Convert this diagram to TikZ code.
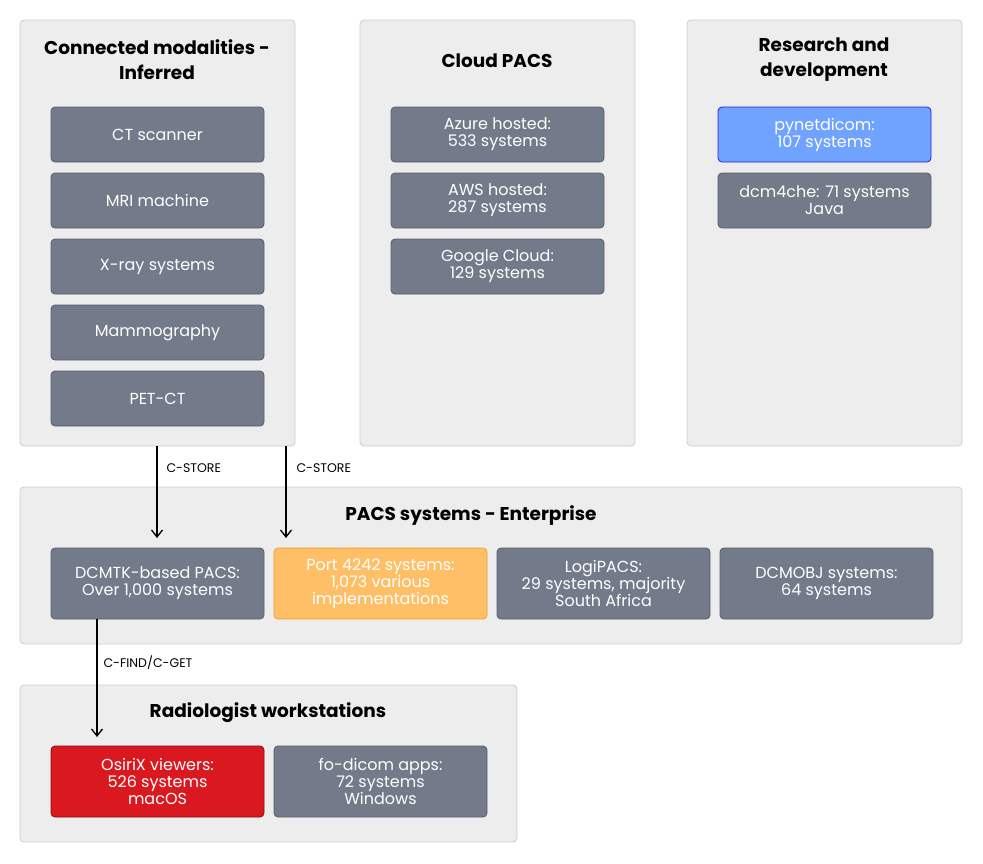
\documentclass[tikz,border=0pt]{standalone}
\usepackage{fontspec}
\setmainfont{Poppins}
\usetikzlibrary{arrows.meta}
\definecolor{grp}{HTML}{EDEDED}
\definecolor{grpb}{HTML}{CCCCCC}
\definecolor{box}{HTML}{737B8A}
\definecolor{boxb}{HTML}{555D6A}
\definecolor{blu}{HTML}{6FA3FF}
\definecolor{blub}{HTML}{2222CC}
\definecolor{org}{HTML}{FFBF66}
\definecolor{orgb}{HTML}{F0A030}
\definecolor{redf}{HTML}{D9191F}
\definecolor{redb}{HTML}{8A0A0E}
\begin{document}
\begin{tikzpicture}[x=1pt,y=-1pt,
 grpst/.style={draw=grpb,fill=grp,rounded corners=4pt,line width=0.8pt},
 bx/.style={draw=boxb,fill=box,rounded corners=4pt,line width=0.8pt,text=white,align=center,
   font=\fontsize{16}{17}\selectfont\addfontfeatures{Weight=300}},
 ttl/.style={font=\fontsize{18.5}{25}\selectfont\bfseries,align=center},
 lbl/.style={font=\fontsize{12.5}{14}\selectfont,anchor=west},
 arr/.style={-{Straight Barb[length=7pt,width=11pt]},line width=1.3pt}]
\useasboundingbox (0,0) rectangle (983,863);
\newcommand\gbox[5]{\draw[grpst] (#1,#2) rectangle (#3,#4); \node[coordinate] (#5) at (#1,#2) {};}
\newcommand\ibox[6][]{\node[bx,#1,minimum width=213pt,minimum height=#5pt,inner sep=0pt] (#6) at (#2+106.5,#3+#5/2) {#4};}
% groups
\draw[grpst] (20,20) rectangle (295,446);
\draw[grpst] (360,20) rectangle (635,446);
\draw[grpst] (687,20) rectangle (962,446);
\draw[grpst] (20,487) rectangle (962,644);
\draw[grpst] (20,685) rectangle (517,842);
\node[ttl] (t1) at (157,60) {Connected modalities -\\Inferred};
\node[ttl] (t2) at (497,61) {Cloud PACS};
\node[ttl] (t3) at (824,60) {Research and\\development};
\node[ttl] (t4) at (471,516) {PACS systems - Enterprise};
\node[ttl] (t5) at (268,713) {Radiologist workstations};
% modalities
\ibox{51}{107}{CT scanner}{55}{m1}
\ibox{51}{173}{MRI machine}{55}{m2}
\ibox{51}{239}{X-ray systems}{55}{m3}
\ibox{51}{305}{Mammography}{55}{m4}
\ibox{51}{371}{PET-CT}{55}{m5}
% cloud
\ibox{391}{107}{Azure hosted:\\533 systems}{55}{c1}
\ibox{391}{173}{AWS hosted:\\287 systems}{55}{c2}
\ibox{391}{239}{Google Cloud:\\129 systems}{55}{c3}
% R&D
\ibox[fill=blu,draw=blub]{718}{107}{pynetdicom:\\107 systems}{55}{r1}
\ibox{718}{173}{dcm4che: 71 systems\\Java}{55}{r2}
% enterprise
\ibox{51}{548}{DCMTK-based PACS:\\Over 1,000 systems}{71}{e1}
\ibox[fill=org,draw=orgb]{274}{548}{Port 4242 systems:\\1,073 various\\implementations}{71}{e2}
\ibox{497}{548}{LogiPACS:\\29 systems, majority\\South Africa}{71}{e3}
\ibox{720}{548}{DCMOBJ systems:\\64 systems}{71}{e4}
% radiologist
\ibox[fill=redf,draw=redb]{51}{746}{OsiriX viewers:\\526 systems\\macOS}{71}{w1}
\ibox{274}{746}{fo-dicom apps:\\72 systems\\Windows}{71}{w2}
% connectors
\coordinate (s1) at (157,446);
\coordinate (s2) at (286,446);
\coordinate (s3) at (97,619);
\coordinate (d1) at (157,538);
\coordinate (d2) at (286,538);
\coordinate (d3) at (97,737);
\draw[arr] (s1) -- (d1);
\draw[arr] (s2) -- (d2);
\draw[arr] (s3) -- (d3);
\node[lbl] (l1) at (163,468) {C-STORE};
\node[lbl] (l2) at (293,468) {C-STORE};
\node[lbl] (l3) at (100,663) {C-FIND/C-GET};
\end{tikzpicture}
\end{document}
